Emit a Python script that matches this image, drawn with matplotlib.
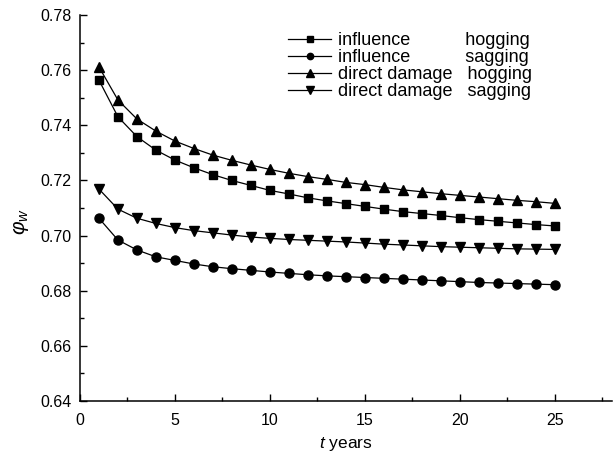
import matplotlib
matplotlib.use("Agg")
import matplotlib.pyplot as plt
from matplotlib.ticker import MultipleLocator

plt.rcParams['font.family'] = ['Liberation Sans', 'DejaVu Sans']
plt.rcParams['mathtext.fontset'] = 'custom'
plt.rcParams['mathtext.it'] = 'Liberation Sans:italic'
plt.rcParams['mathtext.rm'] = 'Liberation Sans'

years = list(range(1, 26))

influence_hogging = [0.7564, 0.7431, 0.7359, 0.7310, 0.7274, 0.7246, 0.7221, 0.7200,
                     0.7182, 0.7164, 0.7151, 0.7137, 0.7126, 0.7116, 0.7106, 0.7096,
                     0.7087, 0.7080, 0.7073, 0.7065, 0.7058, 0.7052, 0.7046, 0.7040,
                     0.7035]
influence_sagging = [0.7063, 0.6984, 0.6948, 0.6923, 0.6910, 0.6897, 0.6887, 0.6880,
                     0.6874, 0.6868, 0.6863, 0.6858, 0.6854, 0.6851, 0.6848, 0.6845,
                     0.6842, 0.6839, 0.6836, 0.6833, 0.6830, 0.6828, 0.6826, 0.6824,
                     0.6822]
direct_hogging = [0.7612, 0.7492, 0.7423, 0.7379, 0.7343, 0.7316, 0.7292, 0.7273,
                  0.7256, 0.7240, 0.7226, 0.7214, 0.7204, 0.7193, 0.7185, 0.7175,
                  0.7166, 0.7159, 0.7152, 0.7146, 0.7140, 0.7134, 0.7128, 0.7123,
                  0.7117]
direct_sagging = [0.7169, 0.7096, 0.7063, 0.7044, 0.7029, 0.7018, 0.7010, 0.7002,
                  0.6995, 0.6990, 0.6986, 0.6983, 0.6980, 0.6977, 0.6973, 0.6969,
                  0.6966, 0.6963, 0.6960, 0.6958, 0.6956, 0.6954, 0.6952, 0.6951,
                  0.6950]

labels = ["influence           hogging",
          "influence           sagging",
          "direct damage   hogging",
          "direct damage   sagging"]

fig = plt.figure(figsize=(6.15, 4.57), dpi=100)
ax = fig.add_axes([0.130, 0.1225, 0.865, 0.8445])

series = [(influence_hogging, 's', 6), (influence_sagging, 'o', 6.5),
          (direct_hogging, '^', 7.5), (direct_sagging, 'v', 7.5)]
for (vals, mk, ms), lab in zip(series, labels):
    ax.plot(years, vals, color='black', lw=0.9, marker=mk, ms=ms, label=lab)

ax.set_xlim(0, 28)
ax.set_ylim(0.64, 0.78)
ax.xaxis.set_major_locator(MultipleLocator(5))
ax.xaxis.set_minor_locator(MultipleLocator(2.5))
ax.yaxis.set_major_locator(MultipleLocator(0.02))
ax.yaxis.set_minor_locator(MultipleLocator(0.01))
ax.yaxis.set_major_formatter(plt.FormatStrFormatter('%.2f'))
ax.tick_params(which='both', direction='in', labelsize=11.5, width=1)
ax.tick_params(which='major', length=5)
ax.tick_params(axis='y', which='major', pad=6)
ax.tick_params(axis='x', which='major', pad=8.5)
ax.tick_params(which='minor', length=3)
for s in ['top', 'right']:
    ax.spines[s].set_visible(False)
for s in ['left', 'bottom']:
    ax.spines[s].set_linewidth(1.1)

ax.set_xlabel('$t$ years', fontsize=12.5, labelpad=5)
ax.set_ylabel(r'$\varphi_w$', fontsize=15, labelpad=7, y=0.464)

leg = ax.legend(loc='upper left', bbox_to_anchor=(0.391, 0.956), frameon=False,
                fontsize=13, handlelength=2.4, handletextpad=0.35,
                labelspacing=0.0, borderpad=0, borderaxespad=0, markerscale=0.7)

fig.savefig('out.png', dpi=100)
